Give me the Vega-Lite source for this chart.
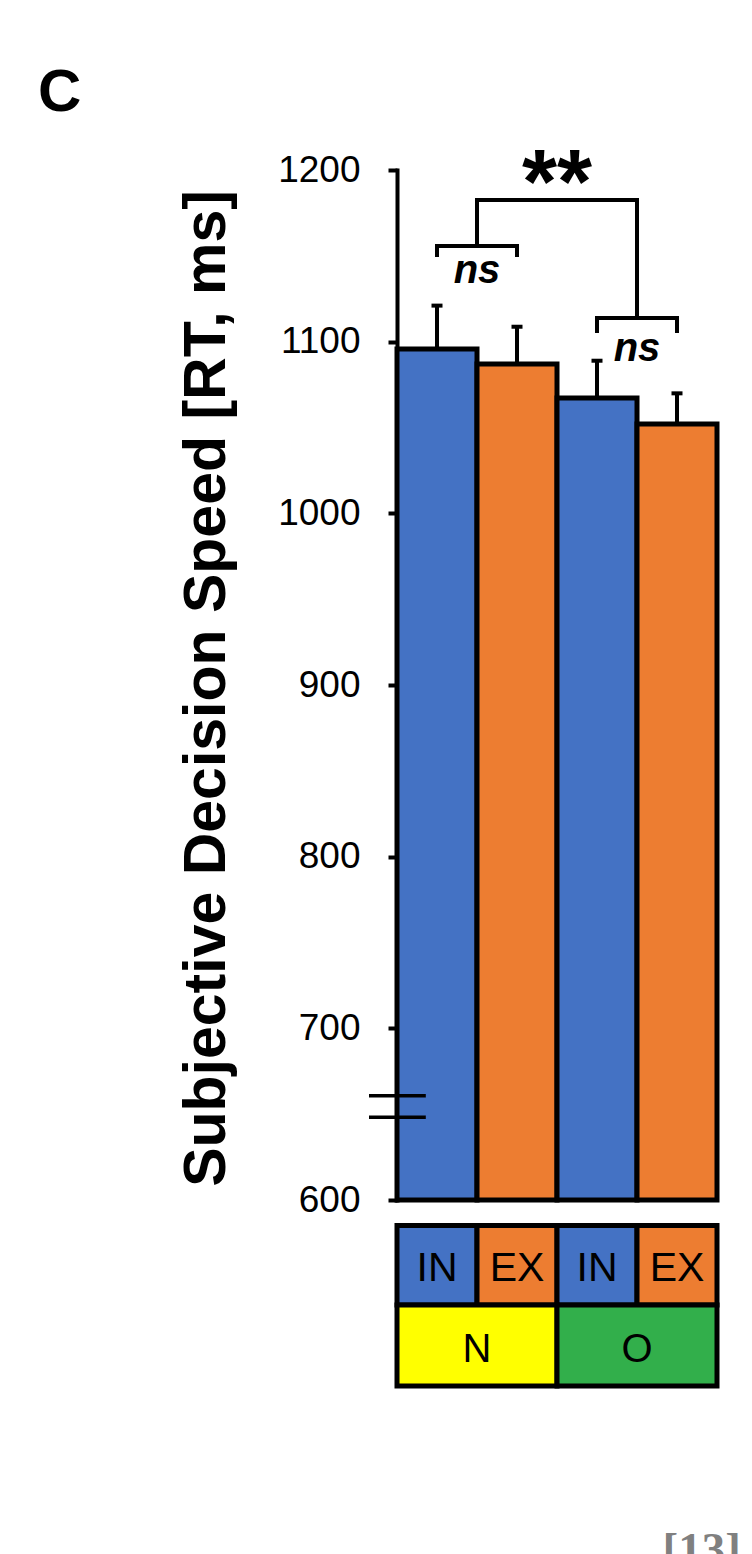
{
  "$schema": "https://vega.github.io/schema/vega-lite/v6.json",
  "autosize": {"type": "none"},
  "width": 320,
  "height": 1030,
  "padding": {"left": 397, "top": 170, "right": 35, "bottom": 354},
  "background": "white",
  "config": {"view": {"stroke": null}, "font": "Liberation Sans"},
  "title": {"text": "C", "anchor": "start", "frame": "group", "orient": "top", "fontSize": 60, "fontWeight": "bold", "font": "Liberation Sans", "color": "black", "dx": -359, "offset": 17},
  "datasets": {
    "bars": [
      {"cond": "N-IN", "group": "N", "type": "IN", "mean": 1095.7, "upper": 1121},
      {"cond": "N-EX", "group": "N", "type": "EX", "mean": 1087, "upper": 1108.7},
      {"cond": "O-IN", "group": "O", "type": "IN", "mean": 1067.2, "upper": 1088.9},
      {"cond": "O-EX", "group": "O", "type": "EX", "mean": 1052, "upper": 1069.9}
    ],
    "nsBrackets": [
      {"b": "ns1", "k": 1, "cond": "N-IN", "y": 1149.3},
      {"b": "ns1", "k": 2, "cond": "N-IN", "y": 1155.7},
      {"b": "ns1", "k": 3, "cond": "N-EX", "y": 1155.7},
      {"b": "ns1", "k": 4, "cond": "N-EX", "y": 1149.3},
      {"b": "ns2", "k": 1, "cond": "O-IN", "y": 1105},
      {"b": "ns2", "k": 2, "cond": "O-IN", "y": 1113.8},
      {"b": "ns2", "k": 3, "cond": "O-EX", "y": 1113.8},
      {"b": "ns2", "k": 4, "cond": "O-EX", "y": 1105}
    ],
    "mainBracket": [
      {"k": 1, "cond": "N-IN", "y": 1155.7},
      {"k": 2, "cond": "N-IN", "y": 1182.5},
      {"k": 3, "cond": "O-IN", "y": 1182.5},
      {"k": 4, "cond": "O-IN", "y": 1113.8}
    ],
    "nsLabels": [
      {"cond": "N-IN", "y": 1134.2, "t": "ns"},
      {"cond": "O-IN", "y": 1088.9, "t": "ns"}
    ],
    "sigLabel": [
      {"cond": "N-EX", "y": 1175.2, "t": "**"}
    ],
    "breaks": [
      {"cond": "N-IN", "y": 660.8},
      {"cond": "N-IN", "y": 648.2}
    ],
    "groups": [{"group": "N"}, {"group": "O"}]
  },
  "layer": [
    {
      "layer": [
        {
          "data": {"name": "bars"},
          "mark": {"type": "bar", "stroke": "black", "strokeWidth": 5},
          "encoding": {
            "x": {"field": "cond", "type": "nominal", "sort": null,
                  "scale": {"domain": ["N-IN", "N-EX", "O-IN", "O-EX"], "paddingInner": 0, "paddingOuter": 0},
                  "axis": {"orient": "bottom", "domain": false, "ticks": false, "labels": false, "grid": false, "title": "[13]",
                           "titleFont": "Liberation Serif", "titleFontWeight": "bold", "titleFontSize": 47, "titleColor": "#808080",
                           "titleAlign": "left", "titleBaseline": "alphabetic", "titleX": 265, "titleY": 364}},
            "y": {"field": "mean", "type": "quantitative",
                  "scale": {"domain": [600, 1200], "nice": false, "zero": false},
                  "axis": {"values": [600, 700, 800, 900, 1000, 1100, 1200], "format": "d", "grid": false,
                           "domainColor": "black", "domainWidth": 4, "domainCap": "square",
                           "tickColor": "black", "tickWidth": 4, "tickSize": 9,
                           "labelFont": "Liberation Sans", "labelFontSize": 37, "labelColor": "black", "labelPadding": 28,
                           "title": "Subjective Decision Speed [RT, ms]", "titleFont": "Liberation Sans", "titleFontSize": 59,
                           "titleFontWeight": "bold", "titleColor": "black", "titleX": -173, "titleY": 518,
                           "titleBaseline": "alphabetic", "titleAlign": "center", "titleAngle": -90}},
            "y2": {"datum": 600},
            "color": {"field": "type", "type": "nominal",
                      "scale": {"domain": ["IN", "EX", "N", "O"], "range": ["#4472C4", "#ED7D31", "#FFFF00", "#32AF4B"]},
                      "legend": null}
          }
        },
        {
          "data": {"name": "breaks"},
          "mark": {"type": "rule", "color": "black", "strokeWidth": 3.5},
          "encoding": {
            "x": {"field": "cond", "type": "nominal", "bandPosition": -0.35,
                  "scale": {"domain": ["N-IN", "N-EX", "O-IN", "O-EX"], "paddingInner": 0, "paddingOuter": 0}},
            "x2": {"field": "cond", "bandPosition": 0.36},
            "y": {"field": "y", "type": "quantitative", "scale": {"domain": [600, 1200], "nice": false, "zero": false}}
          }
        },
        {
          "data": {"name": "bars"},
          "mark": {"type": "rule", "color": "black", "strokeWidth": 4},
          "encoding": {
            "x": {"field": "cond", "type": "nominal",
                  "scale": {"domain": ["N-IN", "N-EX", "O-IN", "O-EX"], "paddingInner": 0, "paddingOuter": 0}},
            "y": {"field": "mean", "type": "quantitative", "scale": {"domain": [600, 1200], "nice": false, "zero": false}},
            "y2": {"field": "upper"}
          }
        },
        {
          "data": {"name": "bars"},
          "mark": {"type": "tick", "orient": "horizontal", "color": "black", "opacity": 1, "size": 11, "thickness": 4},
          "encoding": {
            "x": {"field": "cond", "type": "nominal",
                  "scale": {"domain": ["N-IN", "N-EX", "O-IN", "O-EX"], "paddingInner": 0, "paddingOuter": 0}},
            "y": {"field": "upper", "type": "quantitative", "scale": {"domain": [600, 1200], "nice": false, "zero": false}}
          }
        },
        {
          "data": {"name": "nsBrackets"},
          "mark": {"type": "line", "color": "black", "strokeWidth": 4, "strokeJoin": "miter", "strokeCap": "butt"},
          "encoding": {
            "x": {"field": "cond", "type": "nominal", "bandPosition": 0.5,
                  "scale": {"domain": ["N-IN", "N-EX", "O-IN", "O-EX"], "paddingInner": 0, "paddingOuter": 0}},
            "y": {"field": "y", "type": "quantitative", "scale": {"domain": [600, 1200], "nice": false, "zero": false}},
            "detail": {"field": "b"},
            "order": {"field": "k"}
          }
        },
        {
          "data": {"name": "mainBracket"},
          "mark": {"type": "line", "color": "black", "strokeWidth": 4, "strokeJoin": "miter", "strokeCap": "butt"},
          "encoding": {
            "x": {"field": "cond", "type": "nominal", "bandPosition": 1,
                  "scale": {"domain": ["N-IN", "N-EX", "O-IN", "O-EX"], "paddingInner": 0, "paddingOuter": 0}},
            "y": {"field": "y", "type": "quantitative", "scale": {"domain": [600, 1200], "nice": false, "zero": false}},
            "order": {"field": "k"}
          }
        },
        {
          "data": {"name": "nsLabels"},
          "mark": {"type": "text", "font": "Liberation Sans", "fontSize": 40, "fontWeight": "bold", "fontStyle": "italic", "color": "black", "align": "center", "baseline": "alphabetic"},
          "encoding": {
            "x": {"field": "cond", "type": "nominal", "bandPosition": 1,
                  "scale": {"domain": ["N-IN", "N-EX", "O-IN", "O-EX"], "paddingInner": 0, "paddingOuter": 0}},
            "y": {"field": "y", "type": "quantitative", "scale": {"domain": [600, 1200], "nice": false, "zero": false}},
            "text": {"field": "t"}
          }
        },
        {
          "data": {"name": "sigLabel"},
          "mark": {"type": "text", "font": "Liberation Sans", "fontSize": 90, "fontWeight": "bold", "color": "black", "align": "center", "baseline": "alphabetic"},
          "encoding": {
            "x": {"field": "cond", "type": "nominal", "bandPosition": 1,
                  "scale": {"domain": ["N-IN", "N-EX", "O-IN", "O-EX"], "paddingInner": 0, "paddingOuter": 0}},
            "y": {"field": "y", "type": "quantitative", "scale": {"domain": [600, 1200], "nice": false, "zero": false}},
            "text": {"field": "t"}
          }
        },
        {
          "data": {"name": "bars"},
          "mark": {"type": "bar", "stroke": "black", "strokeWidth": 5},
          "encoding": {
            "x": {"field": "cond", "type": "nominal",
                  "scale": {"domain": ["N-IN", "N-EX", "O-IN", "O-EX"], "paddingInner": 0, "paddingOuter": 0}},
            "y": {"datum": 585.1, "type": "quantitative", "scale": {"domain": [600, 1200], "nice": false, "zero": false}},
            "y2": {"datum": 538.8},
            "color": {"field": "type", "type": "nominal",
                      "scale": {"domain": ["IN", "EX", "N", "O"], "range": ["#4472C4", "#ED7D31", "#FFFF00", "#32AF4B"]},
                      "legend": null}
          }
        },
        {
          "data": {"name": "bars"},
          "mark": {"type": "text", "font": "Liberation Sans", "fontSize": 41, "color": "black", "align": "center", "baseline": "alphabetic"},
          "encoding": {
            "x": {"field": "cond", "type": "nominal",
                  "scale": {"domain": ["N-IN", "N-EX", "O-IN", "O-EX"], "paddingInner": 0, "paddingOuter": 0}},
            "y": {"datum": 552.8, "type": "quantitative", "scale": {"domain": [600, 1200], "nice": false, "zero": false}},
            "text": {"field": "type"}
          }
        }
      ]
    },
    {
      "data": {"name": "groups"},
      "layer": [
        {
          "mark": {"type": "bar", "stroke": "black", "strokeWidth": 5},
          "encoding": {
            "x": {"field": "group", "type": "nominal",
                  "scale": {"domain": ["N", "O"], "paddingInner": 0, "paddingOuter": 0}, "axis": null},
            "y": {"datum": 538.8, "type": "quantitative", "scale": {"domain": [600, 1200], "nice": false, "zero": false}},
            "y2": {"datum": 491.7},
            "color": {"field": "group", "type": "nominal",
                      "scale": {"domain": ["IN", "EX", "N", "O"], "range": ["#4472C4", "#ED7D31", "#FFFF00", "#32AF4B"]},
                      "legend": null}
          }
        },
        {
          "mark": {"type": "text", "font": "Liberation Sans", "fontSize": 40, "color": "black", "align": "center", "baseline": "alphabetic"},
          "encoding": {
            "x": {"field": "group", "type": "nominal",
                  "scale": {"domain": ["N", "O"], "paddingInner": 0, "paddingOuter": 0}, "axis": null},
            "y": {"datum": 505.6, "type": "quantitative", "scale": {"domain": [600, 1200], "nice": false, "zero": false}},
            "text": {"field": "group"}
          }
        }
      ]
    }
  ],
  "resolve": {"scale": {"x": "independent"}}
}
